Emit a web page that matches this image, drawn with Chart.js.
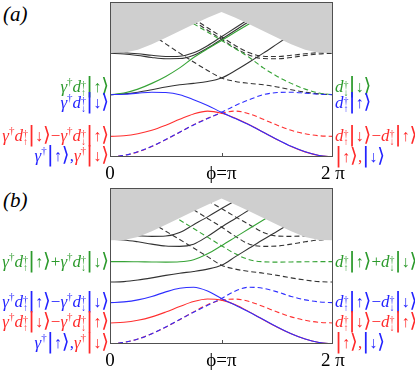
<!DOCTYPE html>
<html>
<head>
<meta charset="utf-8">
<script src="https://cdn.jsdelivr.net/npm/chart.js@4.4.0/dist/chart.umd.min.js"></script>
<style>
body { margin: 0; background: #fff; }
#page { position: relative; width: 415px; height: 371px; overflow: hidden; font-family: 'Liberation Serif', serif; }
canvas { position: absolute; left: 95px; }
.lab { position: absolute; white-space: nowrap; font-size: 17px; line-height: 20px; transform: translateY(-50%); }
.L { right: 306px; text-align: right; }
.R { left: 335px; }
.pan { position: absolute; left: 3px; font-size: 21px; font-style: italic; }
.g { color: #2c9a2c; }
.b { color: #2323ff; }
.r { color: #ff2a2a; }
sup { font-size: 11px; line-height: 0; vertical-align: 7px; }
.st { display: inline-block; vertical-align: -4px; font-size: 10px; line-height: 8px; }
.st span { display: block; }
.bar { font-family: 'DejaVu Sans'; font-size: 21px; line-height: 0; }
.ar { font-size: 16px; }
.ang { font-family: 'DejaVu Sans'; font-size: 20px; line-height: 0; }
</style>
</head>
<body>
<div id="page">
  <canvas id="chartA" width="260" height="185" style="top:0"></canvas>
  <canvas id="chartB" width="260" height="187" style="top:185px"></canvas>
  <div class="pan" style="top:2px">(a)</div>
  <div class="pan" style="top:188px">(b)</div>
</div>
<script>
// phase samples, in units of pi
const phi = [0, 0.125, 0.25, 0.375, 0.5, 0.625, 0.75, 0.875, 1, 1.125, 1.25, 1.375, 1.5, 1.625, 1.75, 1.875, 2];
const tickLabels = ['0', 'ϕ=π', '2 π'];

// (a) continuum edge and levels (solid / dashed)
const edgeA = [0.671, 0.673, 0.692, 0.727, 0.770, 0.813, 0.856, 0.899, 0.935, 0.899, 0.856, 0.813, 0.770, 0.727, 0.692, 0.673, 0.671];
const redA = [0.133, 0.137, 0.150, 0.172, 0.205, 0.243, 0.278, 0.296, 0.282, 0.250, 0.208, 0.160, 0.112, 0.068, 0.033, 0.010, 0.000];
const redAd = [0.000, 0.010, 0.033, 0.068, 0.112, 0.160, 0.208, 0.250, 0.282, 0.296, 0.278, 0.243, 0.205, 0.172, 0.150, 0.137, 0.133];
const blueA = [0.402, 0.405, 0.412, 0.418, 0.416, 0.402, 0.370, 0.333, 0.288, 0.248, 0.207, 0.160, 0.113, 0.069, 0.034, 0.010, 0.000];
const blueAd = [0.000, 0.010, 0.034, 0.069, 0.113, 0.160, 0.207, 0.248, 0.288, 0.333, 0.370, 0.402, 0.416, 0.418, 0.412, 0.405, 0.402];
const greenA = [0.402, 0.413, 0.438, 0.475, 0.520, 0.575, 0.642, 0.698, 0.752, 0.806, 0.860, 0.915, null, null, null, null, null];
const greenAd = [null, null, null, null, null, 0.915, 0.860, 0.806, 0.752, 0.698, 0.642, 0.575, 0.520, 0.475, 0.438, 0.413, 0.402];
const blackA = [0.402, 0.407, 0.418, 0.434, 0.452, 0.466, 0.475, 0.487, 0.510, 0.558, 0.613, 0.670, 0.730, 0.790, null, null, null];
const blackAd = [null, null, null, 0.790, 0.730, 0.670, 0.613, 0.558, 0.510, 0.487, 0.475, 0.466, 0.452, 0.434, 0.418, 0.407, 0.402];
const upA1 = [0.676, 0.673, 0.666, 0.656, 0.648, 0.650, 0.672, 0.718, 0.776, 0.834, 0.892, 0.950, null, null, null, null, null];
const upA1d = [null, null, null, null, null, 0.950, 0.892, 0.834, 0.776, 0.718, 0.672, 0.650, 0.648, 0.656, 0.666, 0.673, 0.676];
const upA2 = [0.669, 0.665, 0.655, 0.642, 0.634, 0.635, 0.657, 0.703, 0.760, 0.818, 0.876, 0.934, null, null, null, null, null];
const upA2d = [null, null, null, null, null, 0.934, 0.876, 0.818, 0.760, 0.703, 0.657, 0.635, 0.634, 0.642, 0.655, 0.665, 0.669];

// (b)
const edgeB = [0.665, 0.667, 0.686, 0.722, 0.765, 0.808, 0.851, 0.893, 0.932, 0.893, 0.851, 0.808, 0.765, 0.722, 0.686, 0.667, 0.665];
const redB = [0.135, 0.139, 0.152, 0.174, 0.205, 0.240, 0.272, 0.288, 0.281, 0.252, 0.206, 0.156, 0.108, 0.066, 0.032, 0.010, 0.000];
const redBd = [0.000, 0.010, 0.032, 0.066, 0.108, 0.156, 0.206, 0.252, 0.281, 0.288, 0.272, 0.240, 0.205, 0.174, 0.152, 0.139, 0.135];
const blueB = [0.265, 0.270, 0.283, 0.305, 0.334, 0.357, 0.364, 0.340, 0.292, 0.248, 0.204, 0.157, 0.109, 0.066, 0.032, 0.010, 0.000];
const blueBd = [0.000, 0.010, 0.032, 0.066, 0.109, 0.157, 0.204, 0.248, 0.292, 0.340, 0.364, 0.357, 0.334, 0.305, 0.283, 0.270, 0.265];
const greenB = [0.528, 0.528, 0.527, 0.526, 0.525, 0.527, 0.540, 0.578, 0.630, 0.685, 0.740, 0.795, 0.850, null, null, null, null];
const greenBd = [null, null, null, null, 0.850, 0.795, 0.740, 0.685, 0.630, 0.578, 0.540, 0.527, 0.525, 0.526, 0.527, 0.528, 0.528];
const blackB = [0.397, 0.400, 0.410, 0.424, 0.440, 0.454, 0.465, 0.480, 0.505, 0.560, 0.615, 0.670, 0.723, 0.776, null, null, null];
const blackBd = [null, null, null, 0.776, 0.723, 0.670, 0.615, 0.560, 0.505, 0.480, 0.465, 0.454, 0.440, 0.424, 0.410, 0.400, 0.397];
const upB1 = [0.672, 0.667, 0.655, 0.640, 0.628, 0.626, 0.640, 0.690, 0.750, 0.805, 0.860, 0.915, null, null, null, null, null];
const upB1d = [null, null, null, null, null, 0.915, 0.860, 0.805, 0.750, 0.690, 0.640, 0.626, 0.628, 0.640, 0.655, 0.667, 0.672];
const upB2 = [0.700, 0.697, 0.693, 0.690, 0.692, 0.715, 0.765, 0.815, 0.868, 0.920, 0.972, null, null, null, null, null, null];
const upB2d = [null, null, null, null, null, null, 0.972, 0.920, 0.868, 0.815, 0.765, 0.715, 0.692, 0.690, 0.693, 0.697, 0.700];

const RED = '#ff3030', BLUE = '#2e2eff', GREEN = '#36a336', BLACK = '#333333';

function line(vals, color, dashed) {
    return {
        data: phi.map((p, i) => ({x: p, y: vals[i]})),
        borderColor: color,
        borderWidth: 1.1,
        borderDash: dashed ? [5, 3] : [],
        pointRadius: 0,
        fill: false,
        cubicInterpolationMode: 'monotone',
        order: 1
    };
}

// gray continuum, drawn over the levels
function edge(vals) {
    return {
        data: phi.map((p, i) => ({x: p, y: vals[i]})),
        borderWidth: 0,
        backgroundColor: '#cfcfcf',
        fill: 'end',
        pointRadius: 0,
        tension: 0,
        order: 0
    };
}

// box round the plot and the small tick at pi
const boxTick = {
    id: 'boxTick',
    afterDraw(chart) {
        const ctx = chart.ctx, a = chart.chartArea;
        ctx.save();
        ctx.setLineDash([]);
        ctx.strokeStyle = '#505050';
        ctx.lineWidth = 1;
        ctx.strokeRect(Math.round(a.left) + 0.5, Math.round(a.top) + 0.5, Math.round(a.width) - 1, Math.round(a.height) - 1);
        const xp = Math.round(chart.scales.x.getPixelForValue(1)) + 0.5;
        ctx.beginPath();
        ctx.moveTo(xp, a.bottom);
        ctx.lineTo(xp, a.bottom - 4);
        ctx.stroke();
        ctx.restore();
    }
};

function makeChart(id, datasets, pad) {
    return new Chart(document.getElementById(id), {
        type: 'line',
        data: {datasets: datasets},
        options: {
            responsive: false,
            animation: false,
            devicePixelRatio: 1,
            layout: {padding: pad},
            plugins: {legend: {display: false}, tooltip: {enabled: false}},
            scales: {
                x: {
                    type: 'linear', min: 0, max: 2,
                    grid: {display: false, drawTicks: false},
                    border: {display: false},
                    afterFit: s => { s.height = 28; },
                    ticks: {
                        stepSize: 1, padding: 6, color: '#000', maxRotation: 0, autoSkip: false,
                        font: {family: 'Liberation Serif', size: 19},
                        callback: v => tickLabels[v]
                    }
                },
                y: {display: false, min: 0, max: 1}
            }
        },
        plugins: [boxTick]
    });
}

makeChart('chartA', [
    edge(edgeA),
    line(blueA, BLUE, false), line(blueAd, BLUE, true),
    line(redA, RED, false), line(redAd, RED, true),
    line(greenA, GREEN, false), line(greenAd, GREEN, true),
    line(blackA, BLACK, false), line(blackAd, BLACK, true),
    line(upA1, BLACK, false), line(upA1d, BLACK, true),
    line(upA2, BLACK, false), line(upA2d, BLACK, true)
], {left: 15, right: 22, top: 2, bottom: 0});

makeChart('chartB', [
    edge(edgeB),
    line(blueB, BLUE, false), line(blueBd, BLUE, true),
    line(redB, RED, false), line(redBd, RED, true),
    line(greenB, GREEN, false), line(greenBd, GREEN, true),
    line(blackB, BLACK, false), line(blackBd, BLACK, true),
    line(upB1, BLACK, false), line(upB1d, BLACK, true),
    line(upB2, BLACK, false), line(upB2d, BLACK, true)
], {left: 15, right: 22, top: 3, bottom: 0});

// state labels
const G = '<i>γ</i><sup>†</sup>';
function D(s) { return '<i>d</i><span class="st"><span>†</span><span>' + s + '</span></span>'; }
function K(s) { return '<span class="bar">|</span><span class="ar">' + s + '</span><span class="ang">⟩</span>'; }
const mixL = '<span class="b">' + G + K('↑') + ',</span><span class="r">' + G + K('↓') + '</span>';
const mixR = '<span class="r">' + K('↑') + ',</span><span class="b">' + K('↓') + '</span>';

const labels = [
    ['L g', 87, G + D('↑') + K('↑')],
    ['L b', 103, G + D('↓') + K('↓')],
    ['L r', 136, G + D('↑') + K('↓') + '−' + G + D('↓') + K('↑')],
    ['L', 156, mixL],
    ['R g', 87, D('↓') + K('↓')],
    ['R b', 103, D('↑') + K('↑')],
    ['R r', 136, D('↑') + K('↓') + '−' + D('↓') + K('↑')],
    ['R', 157, mixR],
    ['L g', 262, G + D('↑') + K('↑') + '+' + G + D('↓') + K('↓')],
    ['L b', 302, G + D('↑') + K('↑') + '−' + G + D('↓') + K('↓')],
    ['L r', 322, G + D('↑') + K('↓') + '−' + G + D('↓') + K('↑')],
    ['L', 343, mixL],
    ['R g', 262, D('↑') + K('↑') + '+' + D('↓') + K('↓')],
    ['R b', 302, D('↑') + K('↑') + '−' + D('↓') + K('↓')],
    ['R r', 322, D('↑') + K('↓') + '−' + D('↓') + K('↑')],
    ['R', 343, mixR]
];
const page = document.getElementById('page');
labels.forEach(l => {
    const el = document.createElement('div');
    el.className = 'lab ' + l[0];
    el.style.top = l[1] + 'px';
    el.innerHTML = l[2];
    page.appendChild(el);
});
</script>
</body>
</html>
